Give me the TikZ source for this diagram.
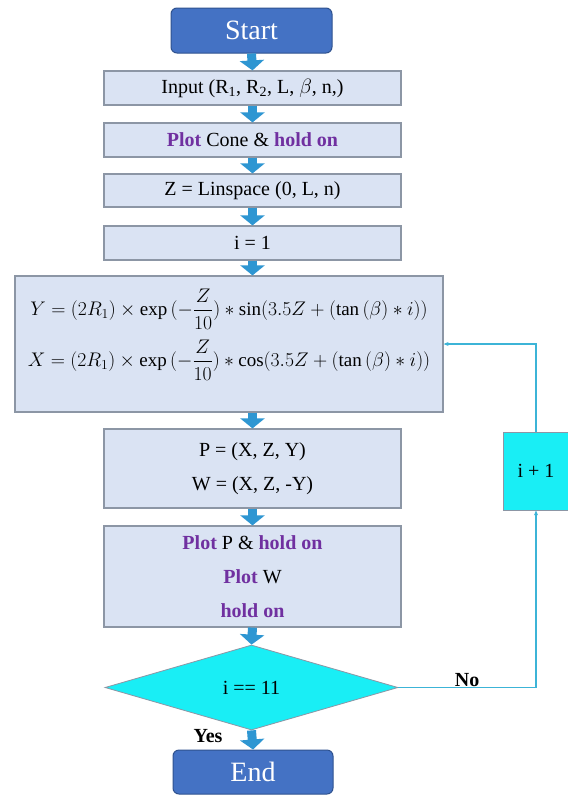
\documentclass[tikz,border=0pt]{standalone}
\usepackage{amsmath}
\usepackage{graphicx}
\usepackage{fontspec}
\setmainfont{Liberation Serif}
\usetikzlibrary{shapes.geometric,arrows.meta,calc}
\definecolor{startblue}{RGB}{68,114,196}
\definecolor{startedge}{RGB}{47,82,143}
\definecolor{boxfill}{RGB}{218,227,243}
\definecolor{boxedge}{RGB}{140,150,165}
\definecolor{arrowblue}{RGB}{46,150,210}
\definecolor{cyanfill}{RGB}{25,238,245}
\definecolor{loopblue}{RGB}{60,180,215}
\definecolor{plotpurple}{RGB}{112,48,160}
\tikzset{
  termbox/.style={draw=startedge, line width=1pt, fill=startblue, rounded corners=6pt,
    minimum width=161pt, minimum height=45pt, inner sep=0pt, text=white,
    font=\fontsize{28}{32}\selectfont},
  procbox/.style={draw=boxedge, line width=1.2pt, fill=boxfill, minimum width=297pt,
    inner sep=0pt, align=center, font=\fontsize{20}{24}\selectfont},
  incbox/.style={draw=boxedge, line width=0.8pt, fill=cyanfill, minimum width=66pt,
    minimum height=78pt, inner sep=0pt, font=\fontsize{20}{24}\selectfont},
  decision/.style={diamond, draw=boxedge, line width=0.8pt, fill=cyanfill, aspect=3.45,
    minimum width=293pt, minimum height=85pt, inner sep=0pt, font=\fontsize{20}{24}\selectfont},
  blockarrow/.style={draw=arrowblue, line width=9pt,
    -{Triangle[length=10pt, width=24pt]}},
  loopline/.style={draw=loopblue, line width=1.3pt, -{Stealth[length=5pt, width=4pt]}},
  lbl/.style={text=black, font=\bfseries\fontsize{20}{24}\selectfont, inner sep=1pt},
  eqtext/.style={inner sep=0pt, font=\fontsize{20}{24}\selectfont}
}
\newcommand{\kwp}[1]{\textcolor{plotpurple}{\textbf{#1}}}
\begin{document}
\begin{tikzpicture}[x=1pt,y=-1pt]
\useasboundingbox (0,0) rectangle (568,796);
\fill[white] (0,0) rectangle (568,796);

\node[termbox] (start) at (251.5,30.5) {Start};
\node[procbox, minimum height=34pt] (input) at (252.5,88) {Input (R\textsubscript{1}, R\textsubscript{2}, L, $\beta$, n,)};
\node[procbox, minimum height=34pt] (cone) at (252.5,140) {\kwp{Plot} Cone \& \kwp{hold on}};
\node[procbox, minimum height=33pt] (zlin) at (252.5,190.5) {Z = Linspace (0, L, n)};
\node[procbox, minimum height=34pt] (ione) at (252.5,243) {i = 1};
\node[procbox, minimum width=428pt, minimum height=136pt] (big) at (229,344) {};
\node[eqtext] (eqy) at (229,309) {\scalebox{0.95}{$Y=(2R_1)\times\exp\,(-\dfrac{Z}{10})*\sin(3.5Z+(\tan\,(\beta)*i))$}};
\node[eqtext] (eqx) at (229,360) {\scalebox{0.95}{$X=(2R_1)\times\exp\,(-\dfrac{Z}{10})*\cos(3.5Z+(\tan\,(\beta)*i))$}};
\node[procbox, minimum height=79pt, font=\fontsize{20}{34}\selectfont] (pw) at (252.5,468.5) {P = (X, Z, Y)\\W = (X, Z, -Y)};
\node[procbox, minimum height=101pt, font=\fontsize{20}{34}\selectfont] (plot) at (252.5,576.5) {\kwp{Plot} P \& \kwp{hold on}\\\kwp{Plot} W\\\kwp{hold on}};
\node[decision] (dec) at (251.5,687.5) {i == 11};
\node[termbox, minimum width=160pt, minimum height=44pt] (endn) at (253,772) {End};
\node[incbox] (inc) at (536,471) {i + 1};

\draw[blockarrow] (start.south) -- (input.north);
\draw[blockarrow] (input.south) -- (cone.north);
\draw[blockarrow] (cone.south) -- (zlin.north);
\draw[blockarrow] (zlin.south) -- (ione.north);
\draw[blockarrow] (ione.south) -- (ione.south |- big.north);
\draw[blockarrow] (pw.north |- big.south) -- (pw.north);
\draw[blockarrow] (pw.south) -- (plot.north);
\draw[blockarrow] (plot.south) -- (dec.north);
\draw[blockarrow] (dec.south) -- node[lbl, pos=0.3, anchor=east, xshift=-24pt] {Yes} (endn.north);

\draw[loopline] (dec.east) -| node[lbl, pos=0.25, above, yshift=-1pt] {No} (inc.south);
\draw[loopline] (inc.north) |- (big.east);
\end{tikzpicture}
\end{document}
